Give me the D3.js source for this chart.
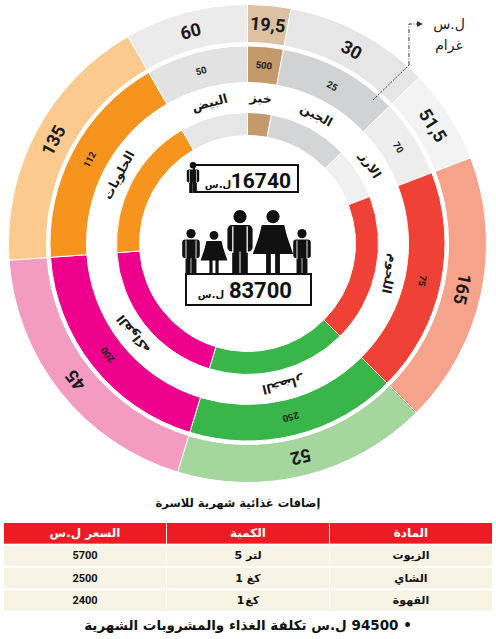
<!DOCTYPE html>
<html>
<head>
<meta charset="utf-8">
<script src="https://cdn.jsdelivr.net/npm/d3@7"></script>
<style>
    body { margin: 0; background: #fff; }
    svg { display: block; }
    .num { font-family: Roboto, "DejaVu Sans", sans-serif; font-weight: 700; }
    .ar  { font-family: "DejaVu Sans", sans-serif; font-weight: 700; }
</style>
</head>
<body>
<svg id="chart" width="496" height="639"></svg>
<script>
// DATA
const items    = ['خبز', 'الجبن', 'الارز', 'اللحوم', 'الخضار', 'الفواكه', 'الحلويات', 'البيض']
const shares   = [10.5, 35.5, 23, 66, 62, 69, 64, 30]          // angular share of each slice (degrees)
const prices   = ['19,5', '30', '51,5', '165', '52', '45', '135', '60']   // outer ring, ل.س
const grams    = [500, 25, 70, 75, 250, 200, 112, 50]           // middle ring, غرام

const outerColors = ['#dcc1a2', '#e6e6e7', '#f3f3f3', '#f7a38b', '#a5d69e', '#f49bc2', '#fcc98e', '#ebebec']
const midColors   = ['#c49a6c', '#d1d2d4', '#ededee', '#ef4136', '#39b54a', '#ec008c', '#f7941d', '#e2e2e3']
const innerColors = ['#c49a6c', '#d4d5d7', '#f0f0f0', '#ef4136', '#39b54a', '#ec008c', '#f7941d', '#e6e6e7']

const personCost = '16740'
const familyCost = '83700'
const currency   = 'ل.س'
const unitLabels = ['ل.س', 'غرام']

const tableTitle   = 'إضافات غذائية شهرية للاسرة'
const tableHeaders = ['السعر ل.س', 'الكمية', 'المادة']
const tableItems   = ['الزيوت', 'الشاي', 'القهوة']
const tableQty     = ['5 لتر', '1 كغ', '1كغ']
const tablePrice   = [5700, 2500, 2400]
const footerText   = '• 94500 ل.س تكلفة الغذاء والمشروبات الشهرية'


// SETTINGS
const settings = {
    cx: 247.5, cy: 243.5,
    rings: {
        outer: { r0: 201, r1: 239, labelR: 220 },
        mid:   { r0: 161, r1: 197.5, labelR: 179 },
        name:  { labelR: 146 },
        inner: { r0: 108, r1: 131 }
    }
}

const svg = d3.select('#chart')
const g = svg.append('g').attr('transform', `translate(${settings.cx},${settings.cy})`)

// I. RINGS
const pie = d3.pie().sort(null).value(d => d)
const slices = pie(shares)
const deg = a => a * 180 / Math.PI
const midA = d => (d.startAngle + d.endAngle) / 2

function drawRing(r0, r1, colors, cls) {
    const arc = d3.arc().innerRadius(r0).outerRadius(r1)
    g.append('g').attr('class', cls)
        .selectAll('path').data(slices).join('path')
        .attr('d', arc)
        .attr('fill', (d, i) => colors[i])
        .attr('stroke', '#fff')
        .attr('stroke-width', 1)
}
drawRing(settings.rings.outer.r0, settings.rings.outer.r1, outerColors, 'ring-outer')
drawRing(settings.rings.mid.r0,   settings.rings.mid.r1,   midColors,   'ring-mid')
drawRing(settings.rings.inner.r0, settings.rings.inner.r1, innerColors, 'ring-inner')

// Ring labels, rotated along each slice
function ringLabels(texts, r, cls, size) {
    g.append('g').selectAll('text').data(slices).join('text')
        .attr('class', cls)
        .attr('transform', d => `rotate(${deg(midA(d))}) translate(0,${-r})`)
        .attr('text-anchor', 'middle')
        .attr('dominant-baseline', 'central')
        .attr('font-size', size)
        .attr('fill', '#1a1a1a')
        .text((d, i) => texts[i])
}
ringLabels(prices, settings.rings.outer.labelR, 'num', 18)
ringLabels(grams,  settings.rings.mid.labelR,   'num', 9.5)
ringLabels(items,  settings.rings.name.labelR,  'ar', 12.5)

// II. UNIT NOTE (top right)
const note = svg.append('g').attr('stroke', '#333').attr('fill', 'none').attr('stroke-width', 1)
note.append('path').attr('d', 'M373,100 L409,65').attr('stroke-dasharray', '2,1.5')
note.append('path').attr('d', 'M409,65 L409,24 L418,24').attr('stroke-dasharray', '4,1.5,1,1.5')
svg.append('path').attr('d', 'M417,21 L423,24 L417,27 Z').attr('fill', '#333')
svg.selectAll('.unit').data(unitLabels).join('text')
    .attr('class', 'unit')
    .attr('x', 449).attr('y', (d, i) => 29 + i * 21)
    .attr('text-anchor', 'middle')
    .attr('font-family', '"DejaVu Sans", sans-serif')
    .attr('font-size', 14)
    .attr('fill', '#222')
    .text(d => d)

// III. CENTRE FIGURES
function person(x, base, h, type) {
    const p = svg.append('g').attr('fill', '#111')
    const hr = h * 0.105
    p.append('circle').attr('cx', x).attr('cy', base - h + hr).attr('r', hr)
    const top = base - h + hr * 2 + h * 0.03
    if (type === 'woman') {
        const w = h * 0.2
        p.append('path').attr('d', `M${x - w * 0.8},${top} L${x + w * 0.8},${top} L${x + w * 1.6},${base - h * 0.3} L${x - w * 1.6},${base - h * 0.3} Z`)
        p.append('rect').attr('x', x - w * 0.9).attr('y', top).attr('width', w * 0.28).attr('height', h * 0.34).attr('rx', 1.5)
            .attr('transform', `rotate(12,${x - w * 0.8},${top})`)
        p.append('rect').attr('x', x + w * 0.62).attr('y', top).attr('width', w * 0.28).attr('height', h * 0.34).attr('rx', 1.5)
            .attr('transform', `rotate(-12,${x + w * 0.8},${top})`)
        p.append('rect').attr('x', x - w * 0.55).attr('y', base - h * 0.31).attr('width', w * 0.38).attr('height', h * 0.31)
        p.append('rect').attr('x', x + w * 0.17).attr('y', base - h * 0.31).attr('width', w * 0.38).attr('height', h * 0.31)
    } else {
        const w = h * 0.2
        p.append('rect').attr('x', x - w).attr('y', top).attr('width', w * 2).attr('height', h * 0.42).attr('rx', w * 0.35)
        p.append('rect').attr('x', x - w * 0.62).attr('y', top + h * 0.3).attr('width', w * 0.58).attr('height', base - top - h * 0.3)
        p.append('rect').attr('x', x + w * 0.04).attr('y', top + h * 0.3).attr('width', w * 0.58).attr('height', base - top - h * 0.3)
        p.append('rect').attr('x', x - w * 0.62).attr('y', top + h * 0.02).attr('width', w * 0.1).attr('height', h * 0.42).attr('fill', '#fff')
        p.append('rect').attr('x', x + w * 0.52).attr('y', top + h * 0.02).attr('width', w * 0.1).attr('height', h * 0.42).attr('fill', '#fff')
    }
}

// single person box
svg.append('rect').attr('x', 194).attr('y', 165).attr('width', 104).attr('height', 27)
    .attr('fill', '#fff').attr('stroke', '#111').attr('stroke-width', 2)
person(193, 193, 31, 'man')
svg.append('text').attr('class', 'num').attr('x', 291).attr('y', 188).attr('text-anchor', 'end')
    .attr('font-size', 21).attr('fill', '#111').text(personCost)
svg.append('text').attr('class', 'ar').attr('x', 218).attr('y', 188).attr('text-anchor', 'middle')
    .attr('font-size', 10).attr('fill', '#111').text(currency)

// family
person(191, 273, 44, 'man')
person(214, 273, 42, 'woman')
person(240, 273, 63, 'man')
person(273, 273, 63, 'woman')
person(302, 273, 44, 'man')
svg.append('rect').attr('x', 186).attr('y', 274).attr('width', 125).attr('height', 31)
    .attr('fill', '#fff').attr('stroke', '#111').attr('stroke-width', 2)
svg.append('text').attr('class', 'num').attr('x', 292).attr('y', 298).attr('text-anchor', 'end')
    .attr('font-size', 22).attr('fill', '#111').text(familyCost)
svg.append('text').attr('class', 'ar').attr('x', 211).attr('y', 298).attr('text-anchor', 'middle')
    .attr('font-size', 10).attr('fill', '#111').text(currency)

// IV. TABLE
svg.append('text').attr('class', 'ar').attr('x', 238).attr('y', 507).attr('text-anchor', 'middle')
    .attr('font-size', 11.5).attr('fill', '#111').text(tableTitle)

const colX = d3.scaleBand().domain(d3.range(3)).range([4, 492]).paddingInner(0.006)
const rowY = d3.scaleBand().domain(d3.range(4)).range([523, 611]).paddingInner(0.08)
const rows = [tableHeaders, ...tableItems.map((d, i) => [tablePrice[i], tableQty[i], d])]

rows.forEach((row, ri) => {
    row.forEach((cell, ci) => {
        const cx = colX(ci) + colX.bandwidth() / 2,
            cy = rowY(ri) + rowY.bandwidth() / 2
        svg.append('rect')
            .attr('x', colX(ci)).attr('y', rowY(ri))
            .attr('width', colX.bandwidth()).attr('height', rowY.bandwidth())
            .attr('fill', ri === 0 ? '#ed1c24' : '#f8f4e5')

        const m = ri > 0 && typeof cell === 'string' ? cell.match(/^(\d+)(\s*)(.+)$/) : null
        if (m) {
            // number + unit: two pieces so the digit stays on the left as in the print
            const gap = m[2] ? 4 : 1
            const numT = svg.append('text').attr('class', 'ar').attr('y', cy)
                .attr('dominant-baseline', 'central').attr('font-size', 11).attr('fill', '#111').text(m[1])
            const unitT = svg.append('text').attr('class', 'ar').attr('y', cy)
                .attr('dominant-baseline', 'central').attr('font-size', 11).attr('fill', '#111').text(m[3])
            const wn = numT.node().getComputedTextLength(),
                wu = unitT.node().getComputedTextLength(),
                x0 = cx - (wn + gap + wu) / 2
            numT.attr('x', x0)
            unitT.attr('x', x0 + wn + gap)
            return
        }
        svg.append('text')
            .attr('class', typeof cell === 'number' ? 'num' : 'ar')
            .attr('x', cx)
            .attr('y', cy)
            .attr('dominant-baseline', 'central')
            .attr('text-anchor', 'middle')
            .attr('font-size', ri === 0 ? 12 : 11)
            .attr('fill', ri === 0 ? '#fff' : '#111')
            .text(cell)
    })
})

svg.append('text').attr('class', 'ar').attr('x', 248).attr('y', 630).attr('text-anchor', 'middle')
    .attr('direction', 'rtl')
    .attr('font-size', 13.5).attr('fill', '#111').text(footerText)
</script>
</body>
</html>
